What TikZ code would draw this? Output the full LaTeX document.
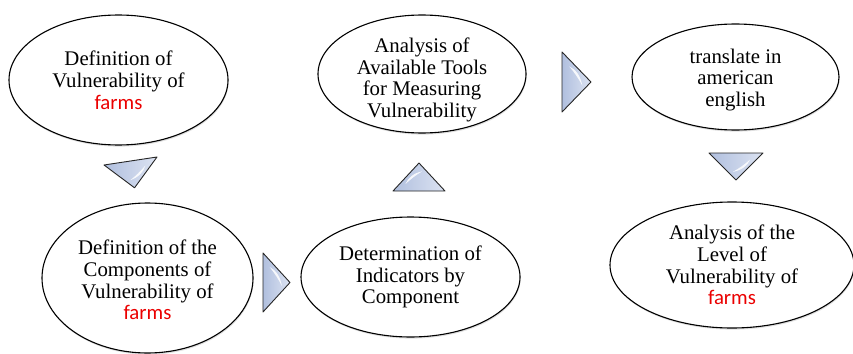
\documentclass[tikz,border=0pt]{standalone}
\usepackage{fontspec}
\setmainfont{Liberation Serif}
\newfontfamily\farmfont{Carlito}
\usetikzlibrary{shapes.geometric,shadows}

\definecolor{farmred}{RGB}{235,0,0}
\definecolor{chevdark}{RGB}{176,191,222}
\definecolor{chevlight}{RGB}{220,227,242}

\newcommand\farmword{{\farmfont\color{farmred}farms}}

\tikzset{
  bubble/.style={ellipse, draw=black, line width=1.1pt, fill=white,
    inner sep=0pt, outer sep=0pt,
    drop shadow={opacity=0.25, shadow xshift=0.6pt, shadow yshift=-1.6pt}},
  bubbletext/.style={align=center, inner sep=0pt,
    font=\fontsize{20.8}{21.8}\selectfont},
  chevbody/.style={draw=black!85, line width=0.9pt, line join=round,
    left color=chevdark, right color=chevlight},
  chevgloss/.style={fill=white, opacity=0.85},
  % unit chevron pointing along local +x: base on x=0, apex at (1,0)
  pics/chevron/.style={code={
    \draw[chevbody] (0,-1) -- (1,0) -- (0,1) -- cycle;
    \fill[chevgloss] (0.25,-0.52) .. controls (0.48,-0.42) and (0.64,-0.2) .. (0.7,0.12)
      .. controls (0.57,-0.12) and (0.44,-0.3) .. cycle;
  }}
}

\begin{document}
\begin{tikzpicture}[x=1pt,y=-1pt]
\useasboundingbox (0,0) rectangle (853,353);

% ellipses
\node[bubble, minimum width=219pt, minimum height=130pt] (defvul) at (118.5,80) {};
\node[bubble, minimum width=211pt, minimum height=150pt] (defcomp) at (147.5,278) {};
\node[bubble, minimum width=219pt, minimum height=120pt] (indic) at (410.5,277) {};
\node[bubble, minimum width=208pt, minimum height=118pt] (tools) at (422,74) {};
\node[bubble, minimum width=207pt, minimum height=106pt] (transl) at (735.5,77) {};
\node[bubble, minimum width=244pt, minimum height=126pt] (level) at (732,265) {};

% texts
\node[bubbletext] (defvul-t) at (defvul) {Definition of\\Vulnerability of\\\farmword};
\node[bubbletext] (defcomp-t) at ([yshift=-2pt]defcomp.center) {Definition of the\\Components of\\Vulnerability of\\\farmword};
\node[bubbletext] (indic-t) at (indic) {Determination of\\Indicators by\\Component};
\node[bubbletext] (tools-t) at ([yshift=-6pt]tools.center) {Analysis of\\Available Tools\\for Measuring\\Vulnerability};
\node[bubbletext] (transl-t) at ([yshift=-3pt]transl.center) {translate in\\american\\english};
\node[bubbletext] (level-t) at (level) {Analysis of the\\Level of\\Vulnerability of\\\farmword};

% chevrons between the steps
\pic[rotate=-81.4, xscale=27.1, yscale=26.8] at (130.5,161) {chevron};
\pic[xscale=27, yscale=29.5] at (263,282.5) {chevron};
\pic[rotate=90, xscale=28, yscale=26] at (419,191) {chevron};
\pic[xscale=29, yscale=30] at (562,82) {chevron};
\pic[rotate=-90, xscale=27, yscale=27] at (736,153) {chevron};
\end{tikzpicture}
\end{document}
